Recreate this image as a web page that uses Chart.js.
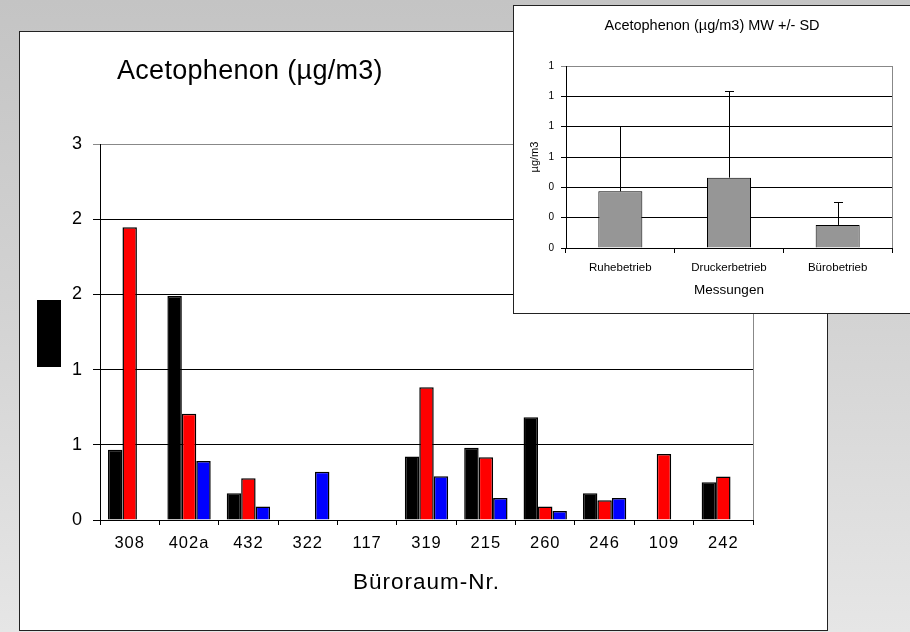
<!DOCTYPE html>
<html>
<head>
<meta charset="utf-8">
<script src="https://cdn.jsdelivr.net/npm/chart.js@4.4.1/dist/chart.umd.min.js"></script>
<style>
  html, body { margin: 0; padding: 0; }
  body {
    width: 910px; height: 632px; overflow: hidden; position: relative;
    background: linear-gradient(to bottom, #c4c4c4 0%, #d3d3d3 50%, #e6e6e6 100%);
    font-family: "Liberation Sans", Arial, sans-serif;
  }
  #boxHaupt { position: absolute; left: 19px; top: 31px; width: 807px; height: 598px; background: #fff; border: 1px solid #222; }
  #boxKlein { position: absolute; left: 513px; top: 5px; width: 400px; height: 307px; background: #fff; border: 1px solid #222; }
  canvas { position: absolute; left: 0; top: 0; }
</style>
</head>
<body>
<div id="boxHaupt"><canvas id="graficoHaupt" width="807" height="598"></canvas></div>
<div id="boxKlein"><canvas id="graficoKlein" width="396" height="307"></canvas></div>

<script>
// ============ Daten Hauptdiagramm (Büroräume) ============
var raeume = ["308", "402a", "432", "322", "117", "319", "215", "260", "246", "109", "242"];
var werteSchwarz = [0.467, 1.49, 0.178, null, null, 0.422, 0.48, 0.684, 0.178, null, 0.251];
var werteRot = [1.947, 0.707, 0.278, null, null, 0.882, 0.418, 0.089, 0.131, 0.438, 0.289];
var werteBlau = [null, 0.393, 0.089, 0.32, null, 0.291, 0.147, 0.06, 0.147, null, null];
var tickTexteHaupt = ["0", "1", "1", "2", "2", "3"];

// ============ Daten Einschub (MW +/- SD) ============
var messungen = ["Ruhebetrieb", "Druckerbetrieb", "Bürobetrieb"];
var mittelwerte = [0.374, 0.464, 0.152];
var standardabw = [0.43, 0.572, 0.149];
var tickTexteKlein = ["0", "0", "0", "1", "1", "1", "1"];

var schrift = "'Liberation Sans', Arial, sans-serif";
Chart.defaults.font.family = schrift;
Chart.defaults.color = "#000";

// ============ Hauptdiagramm ============
var extrasHaupt = {
  id: "extrasHaupt",
  beforeDraw(chart) {
    // Beschriftungen im Original leicht gesperrt
    chart.ctx.letterSpacing = "1px";
  },
  afterDraw(chart) {
    const ctx = chart.ctx;
    const a = chart.chartArea;
    ctx.save();
    // rechter Rand des Plotbereichs
    ctx.strokeStyle = "#888";
    ctx.lineWidth = 1;
    ctx.beginPath();
    ctx.moveTo(Math.round(a.right) + 0.5, a.top);
    ctx.lineTo(Math.round(a.right) + 0.5, a.bottom);
    ctx.stroke();
    // Titel
    ctx.letterSpacing = "0.3px";
    ctx.fillStyle = "#000";
    ctx.font = "27px " + schrift;
    ctx.textAlign = "left";
    ctx.textBaseline = "middle";
    ctx.fillText("Acetophenon (µg/m3)", 97, 40);
    // schwarzer Block links (Achsentitel)
    ctx.fillRect(17, 268, 24, 67);
    ctx.restore();
  }
};

function datensatz(label, daten, farbe) {
  return {
    label: label,
    data: daten,
    backgroundColor: farbe,
    borderColor: "#000",
    borderWidth: 1.5,
    barPercentage: 1,
    categoryPercentage: 0.73
  };
}

new Chart(document.getElementById("graficoHaupt"), {
  type: "bar",
  data: {
    labels: raeume,
    datasets: [
      datensatz("Serie 1", werteSchwarz, "#000000"),
      datensatz("Serie 2", werteRot, "#ff0000"),
      datensatz("Serie 3", werteBlau, "#0000ff")
    ]
  },
  options: {
    responsive: false,
    animation: false,
    layout: { padding: { left: 40, right: 74, top: 112, bottom: 34 } },
    plugins: { legend: { display: false }, tooltip: { enabled: false }, title: { display: false } },
    scales: {
      x: {
        afterFit(s) { s.height = 76; },
        grid: { drawOnChartArea: false, offset: true, tickLength: 5, color: "#000" },
        border: { color: "#000", width: 1 },
        ticks: { font: { size: 16.5 }, padding: 9, maxRotation: 0, autoSkip: false },
        title: { display: true, text: "Büroraum-Nr.", font: { size: 22.5 }, padding: 0 }
      },
      y: {
        min: 0,
        max: 2.5,
        afterFit(s) { s.width = 40; },
        grid: {
          tickLength: 7,
          color: (c) => (c.tick && c.tick.value === 2.5 ? "#888" : "#000")
        },
        border: { color: "#000", width: 1 },
        ticks: {
          stepSize: 0.5,
          padding: 10,
          font: { size: 18 },
          callback: (v, i) => tickTexteHaupt[i]
        }
      }
    }
  },
  plugins: [extrasHaupt]
});

// ============ Einschub ============
var extrasKlein = {
  id: "extrasKlein",
  afterDatasetsDraw(chart) {
    const ctx = chart.ctx;
    const y = chart.scales.y;
    const meta = chart.getDatasetMeta(0);
    ctx.save();
    ctx.strokeStyle = "#000";
    ctx.lineWidth = 1;
    meta.data.forEach((bar, i) => {
      const x = Math.round(bar.x) + 0.5;
      const yOben = Math.round(y.getPixelForValue(mittelwerte[i] + standardabw[i])) + 0.5;
      ctx.beginPath();
      ctx.moveTo(x, bar.y);
      ctx.lineTo(x, yOben);
      ctx.moveTo(x - 4.5, yOben);
      ctx.lineTo(x + 4.5, yOben);
      ctx.stroke();
    });
    ctx.restore();
  },
  afterDraw(chart) {
    const ctx = chart.ctx;
    const a = chart.chartArea;
    ctx.save();
    ctx.strokeStyle = "#888";
    ctx.lineWidth = 1;
    ctx.beginPath();
    ctx.moveTo(Math.round(a.right) + 0.5, a.top);
    ctx.lineTo(Math.round(a.right) + 0.5, a.bottom);
    ctx.stroke();
    ctx.fillStyle = "#000";
    ctx.font = "14.5px " + schrift;
    ctx.textAlign = "center";
    ctx.textBaseline = "middle";
    ctx.fillText("Acetophenon (µg/m3) MW +/- SD", 198, 20);
    ctx.restore();
  }
};

new Chart(document.getElementById("graficoKlein"), {
  type: "bar",
  data: {
    labels: messungen,
    datasets: [{
      label: "MW",
      data: mittelwerte,
      backgroundColor: "#969696",
      borderColor: "#000",
      borderWidth: 1,
      barPercentage: 0.5,
      categoryPercentage: 0.81
    }]
  },
  options: {
    responsive: false,
    animation: false,
    layout: { padding: { left: 12, right: 18, top: 60, bottom: 15 } },
    plugins: { legend: { display: false }, tooltip: { enabled: false }, title: { display: false } },
    scales: {
      x: {
        afterFit(s) { s.height = 50; },
        grid: { drawOnChartArea: false, offset: true, tickLength: 5, color: "#000" },
        border: { color: "#000", width: 1 },
        ticks: { font: { size: 11.5 }, padding: 8, maxRotation: 0, autoSkip: false },
        title: { display: true, text: "Messungen", font: { size: 13.5 }, padding: 0 }
      },
      y: {
        min: 0,
        max: 1.2,
        afterFit(s) { s.width = 40; },
        grid: {
          tickLength: 5,
          color: (c) => (c.tick && Math.abs(c.tick.value - 1.2) < 1e-6 ? "#888" : "#000")
        },
        border: { color: "#000", width: 1 },
        ticks: {
          stepSize: 0.2,
          padding: 7,
          font: { size: 10 },
          callback: (v, i) => tickTexteKlein[i]
        },
        title: { display: true, text: "µg/m3", font: { size: 11 }, padding: { top: 2.5, bottom: 0 } }
      }
    }
  },
  plugins: [extrasKlein]
});
</script>
</body>
</html>
